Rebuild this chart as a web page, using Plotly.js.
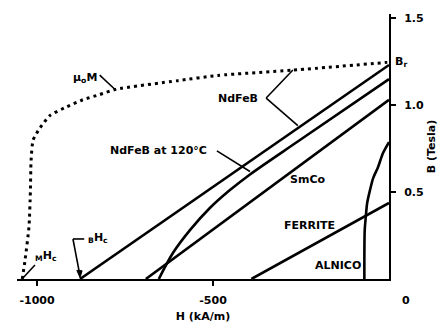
<!DOCTYPE html>
<html>
<head>
<meta charset="utf-8">
<script src="https://cdn.plot.ly/plotly-3.0.1.min.js"></script>
<style>html,body{margin:0;padding:0;background:#fff;}#chart{width:438px;height:324px;}</style>
</head>
<body>
<div id="chart"></div>
<script>
// Demagnetization curves, H in kA/m, B in Tesla
const ndfebH = [-878, 0];
const ndfebB = [0, 1.23];

const ndfeb120H = [-654, -614, -565, -509, -452, -395, -252, 0];
const ndfeb120B = [0, 0.149, 0.282, 0.408, 0.511, 0.601, 0.80, 1.149];

const smcoH = [-691, 0];
const smcoB = [0, 1.03];

const ferriteH = [-391, 0];
const ferriteB = [0, 0.437];

const alnicoH = [-70, -69, -66, -62, -54, -45, -31, -17, 0];
const alnicoB = [0, 0.28, 0.356, 0.437, 0.511, 0.58, 0.644, 0.724, 0.787];

const magH = [-1042, -1034, -1023, -1019, -1017, -1011, -991, -963, -915, -870, -822, -776, -600, -486, -275, -5];
const magB = [0, 0.11, 0.3, 0.5, 0.68, 0.80, 0.87, 0.94, 0.99, 1.03, 1.06, 1.09, 1.14, 1.17, 1.20, 1.245];

const xTickVals = [-1000, -500];
const xTickText = ['-1000', '-500'];
const yTickVals = [0.5, 1.0, 1.5];
const yTickText = ['0.5', '1.0', '1.5'];

const F = {family: 'DejaVu Sans', size: 11, color: '#000', weight: 700};
const solid = {color: '#000', width: 2.6};

const traces = [
  {x: ndfebH, y: ndfebB, mode: 'lines', line: solid, name: 'NdFeB'},
  {x: ndfeb120H, y: ndfeb120B, mode: 'lines', line: Object.assign({shape: 'spline', smoothing: 0.9}, solid), name: 'NdFeB at 120°C'},
  {x: smcoH, y: smcoB, mode: 'lines', line: solid, name: 'SmCo'},
  {x: ferriteH, y: ferriteB, mode: 'lines', line: solid, name: 'FERRITE'},
  {x: alnicoH, y: alnicoB, mode: 'lines', line: Object.assign({shape: 'spline', smoothing: 0.8}, solid), name: 'ALNICO'},
  {x: magH, y: magB, mode: 'lines', line: {color: '#000', width: 3, dash: '3px,4px', shape: 'spline', smoothing: 0.6}, name: 'μ0M'}
];

function seg(x0, y0, x1, y1) {
  return {type: 'line', xref: 'x', yref: 'y', x0: x0, y0: y0, x1: x1, y1: y1, line: {color: '#000', width: 1.6}};
}

const shapes = [
  seg(-822, 1.172, -776, 1.085),       // mu0 M leader
  seg(-349, 1.04, -273, 1.201),        // NdFeB -> dotted
  seg(-349, 1.04, -259, 0.882),        // NdFeB -> solid
  seg(-489, 0.736, -395, 0.618),       // NdFeB 120C leader
  seg(-1006, 0.08, -1040, 0.006),      // MHc leader
  seg(-866, 0.23, -898, 0.23),         // BHc leader horizontal
  seg(-898, 0.23, -880, 0.04),         // BHc leader down
  {type: 'path', xref: 'x', yref: 'y', path: 'M -878 0.008 L -887 0.05 L -872 0.047 Z',
   fillcolor: '#000', line: {color: '#000', width: 1}}
];

function lab(text, x, y, opts) {
  return Object.assign({text: text, x: x, y: y, xref: 'x', yref: 'y', showarrow: false, font: F, xanchor: 'center', yanchor: 'middle'}, opts || {});
}

const annotations = [
  lab('μ<sub>o</sub>M', -864, 1.155),
  lab('NdFeB', -429, 1.04),
  lab('NdFeB at 120°C', -656, 0.736),
  lab('SmCo', -233, 0.569),
  lab('FERRITE', -227, 0.305),
  lab('ALNICO', -145, 0.075),
  lab('<sub>M</sub>H<sub>c</sub>', -974, 0.13),
  lab('<sub>B</sub>H<sub>c</sub>', -827, 0.235),
  lab('B<sub>r</sub>', 0, 1.25, {xanchor: 'left', xshift: 4}),
  lab('0', 0, 0, {yanchor: 'top', xshift: 17, yshift: -13})
];

const layout = {
  width: 438, height: 324,
  margin: {l: 17, r: 49, t: 14, b: 45, pad: 0},
  paper_bgcolor: '#fff', plot_bgcolor: '#fff',
  showlegend: false,
  font: F,
  xaxis: {
    range: [-1057, 0], showgrid: false, zeroline: false,
    showline: true, linecolor: '#000', linewidth: 2,
    ticks: 'outside', ticklen: 5, tickwidth: 2, tickcolor: '#000',
    tickvals: xTickVals, ticktext: xTickText, tickfont: F,
    ticklabelstandoff: 5,
    title: {text: 'H (kA/m)', font: F, standoff: 6}
  },
  yaxis: {
    range: [0, 1.523], side: 'right', showgrid: false, zeroline: false,
    showline: true, linecolor: '#000', linewidth: 2,
    ticks: 'outside', ticklen: 5, tickwidth: 2, tickcolor: '#000',
    tickvals: yTickVals, ticktext: yTickText, tickfont: F,
    ticklabelstandoff: 6,
    title: {text: 'B (Tesla)', font: F, standoff: 8}
  },
  shapes: shapes,
  annotations: annotations
};

Plotly.newPlot('chart', traces, layout, {displayModeBar: false});
</script>
</body>
</html>
